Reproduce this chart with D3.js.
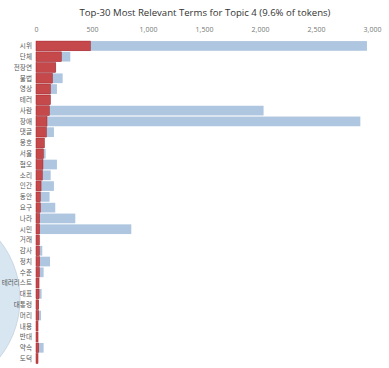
<!DOCTYPE html>
<html>
<head>
<meta charset="utf-8">
<script src="https://cdn.jsdelivr.net/npm/d3@7"></script>
<style>
  body { margin: 0; background: #fff; }
  text { font-family: "Open Sans", "Noto Sans CJK KR", sans-serif; }
</style>
</head>
<body>
<div id="chart"></div>
<script>
// Terms in order of relevance
const terms = ['시위', '단체', '전장연', '불법', '영상', '테러', '사람', '장애', '댓글', '옹호',
  '서울', '혐오', '소리', '인간', '동안', '요구', '나라', '시민', '거래', '감사',
  '정치', '수준', '테러리스트', '대표', '대통령', '머리', '내용', '반대', '약속', '도덕'];

// Overall term frequency
const totalFreq = [2955, 306, 180, 238, 187, 130, 2032, 2896, 160, 76,
  86, 187, 131, 160, 121, 172, 351, 851, 30, 56,
  125, 68, 28, 50, 25, 45, 19, 19, 68, 18];

// Estimated term frequency within topic 4
const topicFreq = [485, 226, 175, 146, 128, 128, 119, 98, 92, 74,
  65, 62, 56, 45, 38, 38, 32, 32, 30, 30,
  32, 30, 27, 27, 24, 24, 18, 18, 24, 18];

const xTicks = [0, 500, 1000, 1500, 2000, 2500, 3000];

// one neighbouring topic circle from the intertopic map panel
const mapTopics = [{pc1: -0.31, pc2: -0.05, share: 0.096}];

const W = 389, H = 368;
const svg = d3.select('#chart').append('svg')
  .attr('width', W)
  .attr('height', H);

// Intertopic map circle (partly visible on the left)
const mapX = d3.scaleLinear().domain([-0.5, 0.5]).range([-150, 250]);
const mapY = d3.scaleLinear().domain([-0.5, 0.5]).range([434, 134]);
const mapR = d3.scaleSqrt().domain([0, 0.1]).range([0, 96]);

svg.selectAll('.topic')
  .data(mapTopics)
  .enter()
  .append('circle')
  .attr('cx', d => mapX(d.pc1))
  .attr('cy', d => mapY(d.pc2))
  .attr('r', d => mapR(d.share))
  .attr('fill', '#1f77b4')
  .attr('fill-opacity', 0.18)
  .attr('stroke', '#b9c6d6')
  .attr('stroke-width', 0.6);

// Scales
const x = d3.scaleLinear().domain([0, 3000]).range([36, 372]);
const y = d3.scaleBand().domain(terms).range([40, 364.5]).padding(0.1);

const rows = terms.map((t, i) => ({term: t, total: totalFreq[i], freq: topicFreq[i]}));

// Title
svg.append('text')
  .attr('x', 205)
  .attr('y', 16)
  .attr('text-anchor', 'middle')
  .attr('font-size', 9.6)
  .attr('fill', '#333')
  .text('Top-30 Most Relevant Terms for Topic 4 (9.6% of tokens)');

// Top axis
const axis = svg.append('g')
  .attr('transform', 'translate(0,35)')
  .call(d3.axisTop(x).tickValues(xTicks).tickFormat(d3.format(',')).tickSize(0));
axis.select('.domain').remove();
axis.selectAll('text')
  .attr('font-size', 7)
  .attr('fill', '#777')
  .attr('font-family', '"Open Sans", sans-serif');

// Overall frequency bars
svg.selectAll('.bar-total')
  .data(rows)
  .enter()
  .append('rect')
  .attr('class', 'bar-total')
  .attr('x', x(0))
  .attr('y', d => y(d.term))
  .attr('width', d => x(d.total) - x(0))
  .attr('height', y.bandwidth())
  .attr('fill', '#afc6e0');

// Topic frequency bars
svg.selectAll('.bar-topic')
  .data(rows)
  .enter()
  .append('rect')
  .attr('class', 'bar-topic')
  .attr('x', x(0))
  .attr('y', d => y(d.term))
  .attr('width', d => x(d.freq) - x(0))
  .attr('height', y.bandwidth())
  .attr('fill', '#c5484b')
  .attr('stroke', '#a81e22')
  .attr('stroke-width', 0.5);

// Term labels
svg.selectAll('.term')
  .data(rows)
  .enter()
  .append('text')
  .attr('class', 'term')
  .attr('x', 32)
  .attr('y', d => y(d.term) + y.bandwidth() / 2)
  .attr('dy', '0.35em')
  .attr('text-anchor', 'end')
  .attr('font-size', 6.6)
  .attr('fill', '#555')
  .text(d => d.term);
</script>
</body>
</html>
